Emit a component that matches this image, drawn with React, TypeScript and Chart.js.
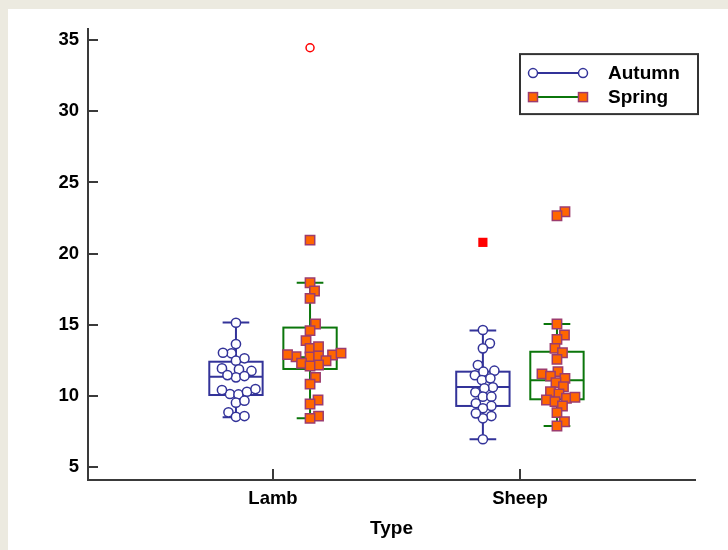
import React, { useEffect, useRef } from 'react';
import { Chart, registerables } from 'chart.js';

Chart.register(...registerables);

// ---------- data ----------
const categories = ['Lamb', 'Sheep'];
const categoryPositions = [1, 2];
const seriesNames = ['Autumn', 'Spring'];
const yTickValues = [5, 10, 15, 20, 25, 30, 35];
const axisTitle = 'Type';

const lambAutumn = [15.14, 13.64, 12.99, 13.03, 12.47, 12.64, 11.86, 11.93, 11.75, 11.3, 11.39, 11.46, 10.13, 10.1, 10.29, 10.41, 10.48, 9.52, 9.66, 8.84, 8.53, 8.58];
const lambSpring = [20.95, 17.95, 17.37, 16.85, 15.05, 14.58, 13.88, 13.34, 13.45, 12.87, 12.73, 12.75, 12.8, 12.9, 13.0, 12.47, 12.29, 12.17, 12.1, 11.3, 10.83, 9.71, 9.43, 8.58, 8.42];
const sheepAutumn = [14.63, 13.69, 13.34, 12.17, 11.7, 11.77, 11.45, 11.11, 11.23, 10.6, 10.53, 10.25, 9.94, 9.94, 9.48, 9.29, 9.13, 8.58, 8.42, 8.77, 6.95];
const sheepSpring = [22.94, 22.66, 15.05, 14.28, 13.97, 13.34, 13.03, 12.57, 11.7, 11.54, 11.39, 11.23, 10.93, 10.64, 10.29, 10.13, 9.83, 9.9, 9.71, 9.59, 9.29, 8.82, 8.18, 7.88];

// box stats: [lower whisker, Q1, median, Q3, upper whisker]
const lambAutumnBox = [8.5, 10.06, 11.35, 12.4, 15.15];
const lambSpringBox = [8.42, 11.89, 12.72, 14.8, 17.95];
const sheepAutumnBox = [6.95, 9.29, 10.62, 11.7, 14.6];
const sheepSpringBox = [7.88, 9.76, 11.1, 13.1, 15.05];

// outliers
const lambSpringFarOut = [34.47];
const sheepAutumnOutside = [20.79];

// ---------- styles ----------
const FONT = '"Liberation Sans", Arial, Helvetica, sans-serif';
const AUTUMN_COLOR = '#333399';
const SPRING_COLOR = '#0b760b';
const SQUARE_FILL = '#ff6600';
const SQUARE_BORDER = '#9c3c6e';
const OUTLIER_COLOR = '#ff0000';
const AXIS_COLOR = '#3a3a3a';
const SERIES_OFFSET = 0.15;
const BOX_HALF = 0.108;
const CAP_HALF = 0.054;

const groups = [
  { cat: 0, series: 0, values: lambAutumn, box: lambAutumnBox },
  { cat: 0, series: 1, values: lambSpring, box: lambSpringBox },
  { cat: 1, series: 0, values: sheepAutumn, box: sheepAutumnBox },
  { cat: 1, series: 1, values: sheepSpring, box: sheepSpringBox },
];
const seriesColors = [AUTUMN_COLOR, SPRING_COLOR];

function groupX(cat: number, series: number) {
  return categoryPositions[cat] + (series === 0 ? -SERIES_OFFSET : SERIES_OFFSET);
}

const boxPlugin = {
  id: 'boxes',
  beforeDatasetsDraw(chart: any) {
    const { ctx, scales } = chart;
    const xs = scales.x;
    const ys = scales.y;
    ctx.save();
    ctx.lineWidth = 2;
    for (const g of groups) {
      const cx = groupX(g.cat, g.series);
      const xl = xs.getPixelForValue(cx - BOX_HALF);
      const xr = xs.getPixelForValue(cx + BOX_HALF);
      const xc = xs.getPixelForValue(cx);
      const cl = xs.getPixelForValue(cx - CAP_HALF);
      const cr = xs.getPixelForValue(cx + CAP_HALF);
      const [lo, q1, med, q3, hi] = g.box.map((v) => ys.getPixelForValue(v));
      ctx.strokeStyle = seriesColors[g.series];
      ctx.beginPath();
      ctx.moveTo(xc, lo); ctx.lineTo(xc, q1);
      ctx.moveTo(xc, q3); ctx.lineTo(xc, hi);
      ctx.moveTo(cl, lo); ctx.lineTo(cr, lo);
      ctx.moveTo(cl, hi); ctx.lineTo(cr, hi);
      ctx.moveTo(xl, med); ctx.lineTo(xr, med);
      ctx.stroke();
      ctx.strokeRect(xl, q3, xr - xl, q1 - q3);
    }
    // inward tick marks
    ctx.strokeStyle = AXIS_COLOR;
    ctx.lineWidth = 2;
    ctx.beginPath();
    const left = chart.chartArea.left;
    const bottom = chart.chartArea.bottom;
    for (const v of yTickValues) {
      const y = Math.round(ys.getPixelForValue(v)) + 0.0;
      ctx.moveTo(left, y); ctx.lineTo(left + 10, y);
    }
    for (const v of categoryPositions) {
      const x = Math.round(xs.getPixelForValue(v));
      ctx.moveTo(x, bottom); ctx.lineTo(x, bottom - 11);
    }
    ctx.stroke();
    ctx.restore();
  },
};

const legendPlugin = {
  id: 'customLegend',
  afterDraw(chart: any) {
    const { ctx, chartArea } = chart;
    const right = chartArea.right + 3;
    const w = 178, h = 60;
    const left = right - w;
    const top = chartArea.top + 25;
    ctx.save();
    ctx.fillStyle = '#ffffff';
    ctx.fillRect(left, top, w, h);
    ctx.strokeStyle = '#333333';
    ctx.lineWidth = 2;
    ctx.strokeRect(left, top, w, h);
    const rows = [top + 19, top + 43];
    seriesNames.forEach((name, i) => {
      const y = rows[i];
      const x1 = left + 13, x2 = left + 63;
      ctx.strokeStyle = seriesColors[i];
      ctx.lineWidth = 2;
      ctx.beginPath(); ctx.moveTo(x1, y); ctx.lineTo(x2, y); ctx.stroke();
      for (const x of [x1, x2]) {
        if (i === 0) {
          ctx.beginPath(); ctx.arc(x, y, 4.5, 0, Math.PI * 2);
          ctx.fillStyle = '#fff'; ctx.fill();
          ctx.lineWidth = 1.5; ctx.strokeStyle = AUTUMN_COLOR; ctx.stroke();
        } else {
          ctx.fillStyle = SQUARE_FILL; ctx.fillRect(x - 4.5, y - 4.5, 9, 9);
          ctx.lineWidth = 1.5; ctx.strokeStyle = SQUARE_BORDER; ctx.strokeRect(x - 4.5, y - 4.5, 9, 9);
        }
      }
      ctx.fillStyle = '#000';
      ctx.font = `bold 19px ${FONT}`;
      ctx.textBaseline = 'middle';
      ctx.textAlign = 'left';
      ctx.fillText(name, left + 88, y + 1);
    });
    ctx.restore();
  },
};

function swarm(values: number[], xCenter: number, xs: any, ys: any, D: number) {
  const placed: { x: number; y: number }[] = [];
  const out: number[] = new Array(values.length);
  const order = values.map((_, i) => i).sort((a, b) => values[a] - values[b]);
  const cpx = xs.getPixelForValue(xCenter);
  for (const i of order) {
    const py = ys.getPixelForValue(values[i]);
    let best = 0;
    for (let k = 0; k < 400; k++) {
      const off = (k % 2 === 1 ? 1 : -1) * Math.ceil(k / 2) * 0.5;
      if (placed.every((p) => (p.x - off) ** 2 + (p.y - py) ** 2 >= D * D)) { best = off; break; }
    }
    placed.push({ x: best, y: py });
    out[i] = xs.getValueForPixel(cpx + best);
  }
  return out;
}

export default function App() {
  const ref = useRef<HTMLCanvasElement>(null);
  useEffect(() => {
    document.body.style.background = '#ECEAE0';
    Chart.defaults.font.family = FONT;
    const autumnGroups = groups.filter((g) => g.series === 0);
    const springGroups = groups.filter((g) => g.series === 1);
    const initial = (gs: typeof groups) => gs.flatMap((g) => g.values.map((v) => ({ x: groupX(g.cat, g.series), y: v })));
    const chart = new Chart(ref.current!, {
      type: 'scatter',
      data: {
        datasets: [
          {
            label: 'farOut',
            data: lambSpringFarOut.map((v) => ({ x: groupX(0, 1), y: v })),
            pointStyle: 'circle', pointRadius: 4, pointBackgroundColor: '#ffffff',
            pointBorderColor: OUTLIER_COLOR, pointBorderWidth: 1.5,
          },
          {
            label: 'outside',
            data: sheepAutumnOutside.map((v) => ({ x: groupX(1, 0), y: v })),
            pointStyle: 'rect', pointRadius: 6.5, pointBackgroundColor: OUTLIER_COLOR,
            pointBorderColor: OUTLIER_COLOR, pointBorderWidth: 0,
          },
          {
            label: seriesNames[0],
            data: initial(autumnGroups),
            pointStyle: 'circle', pointRadius: 4.6, pointBackgroundColor: '#ffffff',
            pointBorderColor: AUTUMN_COLOR, pointBorderWidth: 1.5,
          },
          {
            label: seriesNames[1],
            data: initial(springGroups),
            pointStyle: 'rect', pointRadius: 6.6, pointBackgroundColor: SQUARE_FILL,
            pointBorderColor: SQUARE_BORDER, pointBorderWidth: 1.5,
          },
        ],
      },
      options: {
        animation: false,
        responsive: false,
        layout: { padding: { left: 0, right: 33, top: 20, bottom: 0 } },
        plugins: { legend: { display: false }, tooltip: { enabled: false } },
        scales: {
          x: {
            type: 'linear',
            position: 'bottom',
            min: 0.2508,
            max: 2.709,
            afterBuildTicks: (scale: any) => { scale.ticks = categoryPositions.map((v) => ({ value: v })); },
            afterFit: (scale: any) => { scale.height = 70; },
            grid: { display: false, drawTicks: false },
            border: { display: true, color: AXIS_COLOR, width: 2 },
            ticks: {
              autoSkip: false, maxRotation: 0, padding: 8, color: '#000',
              font: { size: 18.5, weight: 'bold', family: FONT },
              callback: (v: any) => { const i = categoryPositions.indexOf(Number(v)); return i >= 0 ? categories[i] : ''; },
            },
            title: { display: true, text: axisTitle, color: '#000', font: { size: 19, weight: 'bold', family: FONT }, padding: { top: 0, bottom: 10 } },
          },
          y: {
            type: 'linear',
            min: 4.086,
            max: 35.78,
            afterBuildTicks: (scale: any) => { scale.ticks = yTickValues.map((v) => ({ value: v })); },
            afterFit: (scale: any) => { scale.width = 80; },
            grid: { display: false, drawTicks: false },
            border: { display: true, color: AXIS_COLOR, width: 2 },
            ticks: { padding: 9, color: '#000', font: { size: 18.5, weight: 'bold', family: FONT } },
          },
        },
      },
      plugins: [boxPlugin, legendPlugin],
    } as any);

    const xs = chart.scales.x;
    const ys = chart.scales.y;
    const jitter = (gs: typeof groups) => gs.flatMap((g) => {
      const c = groupX(g.cat, g.series);
      const px = swarm(g.values, c, xs, ys, 8.5);
      return g.values.map((v, i) => ({ x: px[i], y: v }));
    });
    chart.data.datasets[2].data = jitter(autumnGroups) as any;
    chart.data.datasets[3].data = jitter(springGroups) as any;
    chart.update('none');
    return () => chart.destroy();
  }, []);
  return (
    <div style={{ position: 'absolute', left: 8, top: 9, width: 720, height: 541, background: '#ffffff' }}>
      <canvas ref={ref} width={720} height={541} />
    </div>
  );
}
